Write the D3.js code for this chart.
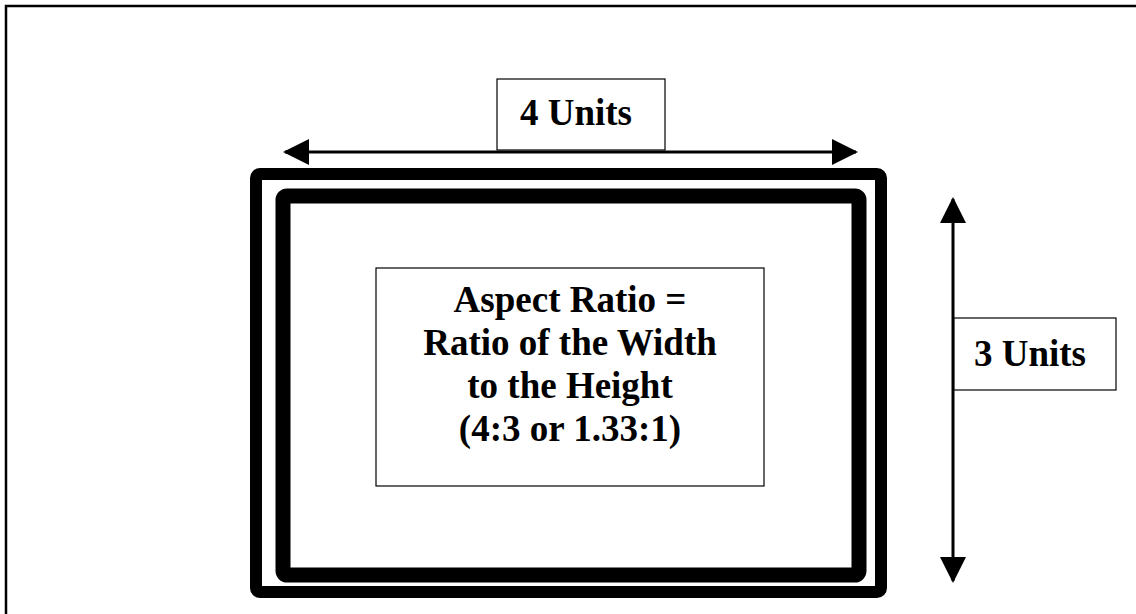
<!DOCTYPE html>
<html lang="en">
<head>
<meta charset="UTF-8">
<title>Aspect Ratio</title>
<script src="https://d3js.org/d3.v7.min.js"></script>
<style>
    body { margin: 0; background: #fff; }
    text { font-family: "Liberation Serif", "Times New Roman", serif; font-weight: bold; fill: #000; }
</style>
</head>
<body>
<svg width="1136" height="614"></svg>
<script>
// diagram values
const ratio = [4, 3];
const unitLabels = ["4 Units", "3 Units"];
const centerLines = ["Aspect Ratio =", "Ratio of the Width", "to the Height", "(4:3 or 1.33:1)"];

const svg = d3.select("svg");

// unit scales: the arrows span the full width / height in units
const x = d3.scaleLinear().domain([0, ratio[0]]).range([283, 858]);
const y = d3.scaleLinear().domain([0, ratio[1]]).range([197, 583]);

// page border (top and left only)
svg.append("path")
    .attr("d", "M6,614 V6 H1136")
    .attr("fill", "none")
    .attr("stroke", "#000")
    .attr("stroke-width", 2.5);

// outer and inner frames
svg.append("rect")
    .attr("x", 256).attr("y", 174)
    .attr("width", 625).attr("height", 418)
    .attr("rx", 4)
    .attr("fill", "none").attr("stroke", "#000").attr("stroke-width", 12);

svg.append("rect")
    .attr("x", 283).attr("y", 196)
    .attr("width", 576).attr("height", 379)
    .attr("rx", 4)
    .attr("fill", "none").attr("stroke", "#000").attr("stroke-width", 15);

// center text box
svg.append("rect")
    .attr("x", 376).attr("y", 268)
    .attr("width", 388).attr("height", 218)
    .attr("fill", "#fff").attr("stroke", "#000").attr("stroke-width", 1.2);

svg.append("g")
    .selectAll("text")
    .data(centerLines)
    .join("text")
    .attr("x", 570)
    .attr("y", (d, i) => 312 + i * 43)
    .attr("text-anchor", "middle")
    .attr("font-size", 37)
    .text(d => d);

// arrow heads
const defs = svg.append("defs");
defs.append("marker")
    .attr("id", "head")
    .attr("viewBox", "0 0 26 26")
    .attr("refX", 24).attr("refY", 13)
    .attr("markerWidth", 26).attr("markerHeight", 26)
    .attr("markerUnits", "userSpaceOnUse")
    .attr("orient", "auto-start-reverse")
    .append("path")
    .attr("d", "M0,0 L26,13 L0,26 Z")
    .attr("fill", "#000");

// width arrow
svg.append("line")
    .attr("x1", x(0) + 2).attr("x2", x(ratio[0]) - 2)
    .attr("y1", 152).attr("y2", 152)
    .attr("stroke", "#000").attr("stroke-width", 3)
    .attr("marker-start", "url(#head)")
    .attr("marker-end", "url(#head)");

// height arrow
svg.append("line")
    .attr("x1", 953).attr("x2", 953)
    .attr("y1", y(0) + 2).attr("y2", y(ratio[1]) - 2)
    .attr("stroke", "#000").attr("stroke-width", 3)
    .attr("marker-start", "url(#head)")
    .attr("marker-end", "url(#head)");

// unit label boxes
svg.append("rect")
    .attr("x", 497).attr("y", 79)
    .attr("width", 168).attr("height", 71)
    .attr("fill", "#fff").attr("stroke", "#000").attr("stroke-width", 1.2);
svg.append("text")
    .attr("x", 576).attr("y", 125)
    .attr("text-anchor", "middle")
    .attr("font-size", 37)
    .text(unitLabels[0]);

svg.append("rect")
    .attr("x", 954).attr("y", 318)
    .attr("width", 162).attr("height", 72)
    .attr("fill", "#fff").attr("stroke", "#000").attr("stroke-width", 1.2);
svg.append("text")
    .attr("x", 1030).attr("y", 366)
    .attr("text-anchor", "middle")
    .attr("font-size", 37)
    .text(unitLabels[1]);
</script>
</body>
</html>
